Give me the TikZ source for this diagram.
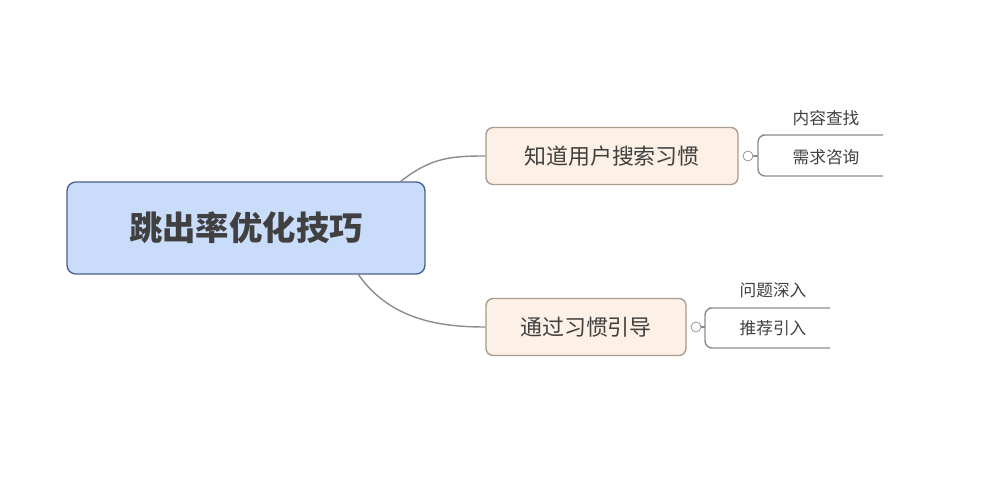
\documentclass[tikz,border=0pt]{standalone}
\usepackage{fontspec}
\setmainfont{Noto Sans CJK SC}
\definecolor{rootfill}{HTML}{C9DDFB}
\definecolor{rootdraw}{HTML}{4B6191}
\definecolor{topicfill}{HTML}{FDF1E7}
\definecolor{topicdraw}{HTML}{A89B8F}
\definecolor{linegray}{HTML}{8C8C8C}
\definecolor{textgray}{HTML}{404040}
\tikzset{
  rootbox/.style={draw=rootdraw,fill=rootfill,rounded corners=5pt,thick,minimum width=7.16cm,minimum height=1.84cm,font=\fontsize{19}{22}\selectfont\bfseries,text=textgray},
  topicbox/.style={draw=topicdraw,fill=topicfill,rounded corners=4pt,thick,minimum height=1.14cm,font=\fontsize{12.5}{15}\selectfont,text=textgray},
  leaf/.style={font=\fontsize{9.5}{12}\selectfont,text=textgray},
  fold/.style={circle,draw=linegray,fill=white,inner sep=0pt,minimum size=0.2cm},
  link/.style={draw=linegray,thick}
}
\begin{document}
\begin{tikzpicture}[x=0.02cm,y=-0.02cm]
  \useasboundingbox (0,0) rectangle (1000,479);
  \node[rootbox] (root) at (246,228) {跳出率优化技巧};
  \node[topicbox,minimum width=5.04cm] (habit) at (612,156) {知道用户搜索习惯};
  \node[topicbox,minimum width=4cm] (guide) at (586,327) {通过习惯引导};
  \node[fold] (fold1) at (748,156) {};
  \node[fold] (fold2) at (696,327) {};
  % connectors from the root
  \coordinate (r1) at (400,182);
  \coordinate (r2) at (358,274);
  \draw[link] (r1) .. controls (430,158) and (450,156) .. (habit.west);
  \draw[link] (r2) .. controls (390,320) and (440,327) .. (guide.west);
  % leaves
  \node[leaf] (find) at (826,118) {内容查找};
  \node[leaf] (ask) at (826,157) {需求咨询};
  \node[leaf] (deep) at (773,290) {问题深入};
  \node[leaf] (rec) at (773,328) {推荐引入};
  \draw[link] (fold1) -- (758,156);
  \draw[link] (883,135) -- (762,135) [rounded corners=4pt] -- (758,135) -- (758,176) -- (883,176);
  \draw[link] (fold2) -- (705,327);
  \draw[link] (830,308) -- (709,308) [rounded corners=4pt] -- (705,308) -- (705,348) -- (830,348);
\end{tikzpicture}
\end{document}
